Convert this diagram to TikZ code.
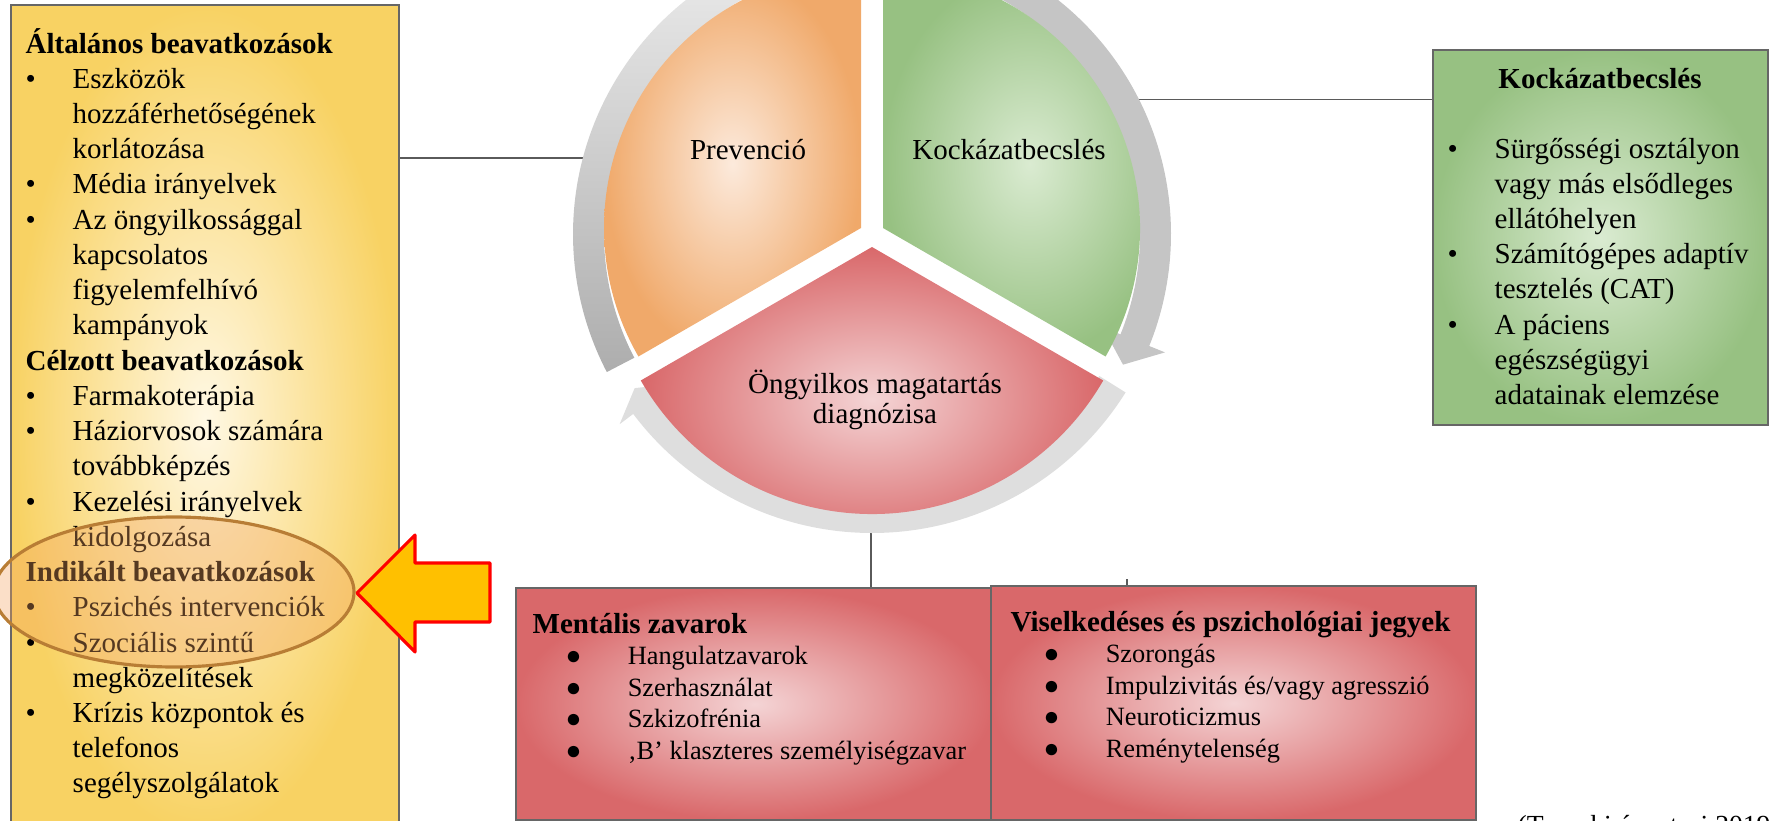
\documentclass[tikz,border=0pt]{standalone}
\usepackage{fontspec}
\setmainfont{Liberation Serif}

\definecolor{boxline}{HTML}{666666}
\definecolor{connline}{HTML}{5A5A5A}
\definecolor{yelout}{HTML}{F8D263}
\definecolor{yelin}{HTML}{FFF8E4}
\definecolor{grnout}{HTML}{97C182}
\definecolor{grnin}{HTML}{DAEBD1}
\definecolor{redout}{HTML}{D9686A}
\definecolor{redin}{HTML}{F4D4D5}
\definecolor{orgout}{HTML}{F0A96A}
\definecolor{orgin}{HTML}{FCEADC}
\definecolor{ringmid}{HTML}{C5C5C5}
\definecolor{ringlight}{HTML}{DEDEDE}
\definecolor{hilite}{HTML}{F4A460}
\definecolor{hiliteline}{HTML}{B87D35}
\definecolor{arrowfill}{HTML}{FFC000}

\tikzset{
  infobox/.style={draw=boxline, line width=0.6pt, anchor=north west, inner sep=0pt},
  conn/.style={draw=connline, line width=0.45pt},
  txt/.style={inner sep=0pt, font=\bodyfont},
}

\newcommand\bodyfont{\fontsize{8.25}{10.02}\selectfont}
\newcommand\itemfont{\fontsize{7.5}{9}\selectfont}
\newcommand\bul{\makebox[0.47cm][l]{\textbullet}}
\newcommand\ind{\hspace*{0.47cm}}
\newcommand\dotbul{\hspace*{0.33cm}\makebox[0.62cm][l]{●}}

% one grey ring segment: start angle, barb angle, tip angle, fill
\newcommand\ringarrow[4]{%
  \path[#4] (#1:299) arc[start angle=#1, end angle=#2, radius=299]
    -- (#2:316) -- (#3:283) -- (#2:249) -- (#2:268)
    arc[start angle=#2, end angle=#1, radius=268] -- cycle;}

\begin{document}
\begin{tikzpicture}[x=0.01cm, y=0.01cm]
\useasboundingbox (0,0) rectangle (1769,-821);

% Prevention box (left)
\node[infobox, minimum width=3.88cm, minimum height=8.3cm, inner color=yelin, outer color=yelout] (prevbox) at (10,-4) {};
\node[txt, anchor=base west] (prevlist) at (25,-53) {\parbox[t]{3.7cm}{\raggedright
\textbf{Általános beavatkozások}\\
\bul Eszközök\\
\ind hozzáférhetőségének\\
\ind korlátozása\\
\bul Média irányelvek\\
\bul Az öngyilkossággal\\
\ind kapcsolatos\\
\ind figyelemfelhívó\\
\ind kampányok\\
\textbf{Célzott beavatkozások}\\
\bul Farmakoterápia\\
\bul Háziorvosok számára\\
\ind továbbképzés\\
\bul Kezelési irányelvek\\
\ind kidolgozása\\
\textbf{Indikált beavatkozások}\\
\bul Pszichés intervenciók\\
\bul Szociális szintű\\
\ind megközelítések\\
\bul Krízis központok és\\
\ind telefonos\\
\ind segélyszolgálatok}};

% highlight and pointer
\draw[hiliteline, line width=0.9pt, fill=hilite, fill opacity=0.35] (174,-592) ellipse [x radius=180, y radius=75];
\draw[red, line width=0.9pt, fill=arrowfill, line join=round] (357,-593) -- (415,-535) -- (415,-563) -- (490,-563)
  -- (490,-622) -- (415,-622) -- (415,-652) -- cycle;

% boxes on the right and at the bottom
\node[infobox, minimum width=3.35cm, minimum height=3.75cm, inner color=grnin, outer color=grnout] (kockbox) at (1432,-49) {};
\node[infobox, minimum width=4.77cm, minimum height=2.32cm, inner color=redin, outer color=redout] (mentbox) at (515,-587) {};
\node[infobox, minimum width=4.85cm, minimum height=2.34cm, inner color=redin, outer color=redout] (viselbox) at (990,-585) {};

% connectors
\coordinate (prevring) at (583,-158);
\coordinate (kockring) at (1139,-99.5);
\coordinate (diagring) at (871,-533);
\coordinate (tick) at (1127,-579);
\draw[conn] (prevbox.east |- prevring) -- (prevring);
\draw[conn] (kockring) -- (kockbox.west |- kockring);
\draw[conn] (diagring) -- (diagring |- mentbox.north);
\draw[conn] (tick) -- (tick |- viselbox.north);

% cycle: ring arrows, then the three slices
\begin{scope}[shift={(872,-234)}]
\ringarrow{207.5}{98}{93}{top color=black!6, bottom color=black!32}
\ringarrow{87}{-22}{-27.5}{fill=ringmid}
\ringarrow{-32}{-143}{-147}{fill=ringlight}
\end{scope}
\shade[inner color=orgin, outer color=orgout] (861,-228) -- ++(90:257) arc[start angle=90, end angle=210, radius=257] -- cycle;
\shade[inner color=grnin, outer color=grnout] (883,-228) -- ++(-30:257) arc[start angle=-30, end angle=90, radius=257] -- cycle;
\shade[inner color=redin, outer color=redout] (872,-247) -- ++(210:267) arc[start angle=210, end angle=330, radius=267] -- cycle;

\node[txt, anchor=base] (prevlabel) at (748,-159) {Prevenció};
\node[txt, anchor=base] (kocklabel) at (1009,-159) {Kockázatbecslés};
\node[inner sep=0pt, anchor=base, font=\fontsize{8.25}{8.55}\selectfont] (diaglabel) at (875,-393)
  {\begin{tabular}[t]{@{}c@{}}Öngyilkos magatartás\\diagnózisa\end{tabular}};

% box texts
\node[txt, anchor=base, font=\bodyfont\bfseries] (kockhead) at (1600,-88) {Kockázatbecslés};
\node[txt, anchor=base west] (kocklist) at (1447,-158) {\parbox[t]{3.2cm}{\raggedright
\bul Sürgősségi osztályon\\
\ind vagy más elsődleges\\
\ind ellátóhelyen\\
\bul Számítógépes adaptív\\
\ind tesztelés (CAT)\\
\bul A páciens\\
\ind egészségügyi\\
\ind adatainak elemzése}};
\node[txt, anchor=base west, font=\itemfont] (mentlist) at (532,-633) {\parbox[t]{4.6cm}{\raggedright
{\fontsize{8.25}{9}\selectfont\bfseries Mentális zavarok}\\
\dotbul Hangulatzavarok\\
\dotbul Szerhasználat\\
\dotbul Szkizofrénia\\
\dotbul ‚B’ klaszteres személyiségzavar}};
\node[txt, anchor=base west, font=\itemfont] (visellist) at (1010,-631) {\parbox[t]{4.7cm}{\raggedright
{\fontsize{8.25}{9}\selectfont\bfseries Viselkedéses és pszichológiai jegyek}\\
\dotbul Szorongás\\
\dotbul Impulzivitás és/vagy agresszió\\
\dotbul Neuroticizmus\\
\dotbul Reménytelenség}};

% source, cut by the page edge as in the original
\node[inner sep=0pt, anchor=base west, font=\fontsize{7.85}{9}\selectfont] (source) at (1517,-834) {(Turecki és mtsai 2019)};
\end{tikzpicture}
\end{document}
